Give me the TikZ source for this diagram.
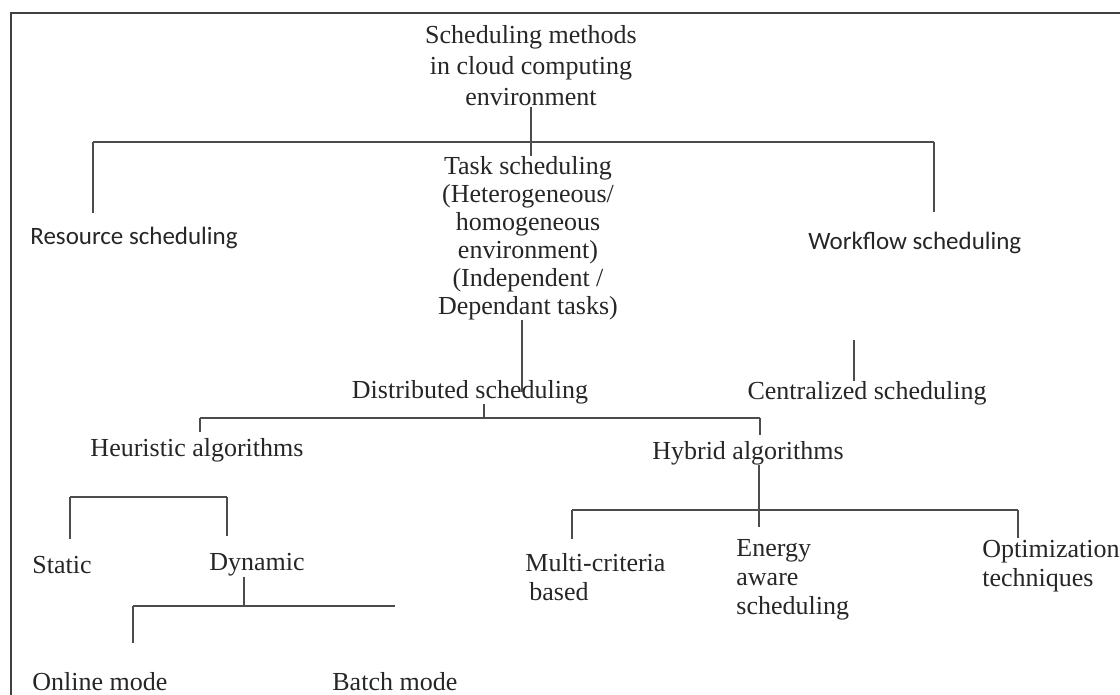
\documentclass[tikz,border=0pt]{standalone}
\usepackage{fontspec}
\setmainfont{Liberation Serif}
\newfontfamily\labelsans{Carlito}
\usetikzlibrary{positioning}

\begin{document}
\begin{tikzpicture}[x=0.5pt,y=-0.5pt,
      every node/.style={inner sep=0pt,text=black!85},
      method/.style={font=\fontsize{13}{14}\selectfont,align=center},
      leaf/.style={font=\fontsize{13}{14.5}\selectfont,align=left,anchor=west},
      sansleaf/.style={font=\labelsans\fontsize{12.5}{14}\selectfont,anchor=west},
      branch/.style={draw=black!70,line width=1pt}]

      \useasboundingbox (0,0) rectangle (1120,695);
      \draw[black!75,line width=1.4pt] (11,695) -- (11,13) -- (1120,13);

      % first level
      \node[method,font=\fontsize{13}{15.5}\selectfont] (title) at (531,66)
            {Scheduling methods\\in cloud computing\\environment};
      \node[method]   (task)     at (528,238) {Task scheduling\\(Heterogeneous/\\homogeneous\\environment)\\(Independent /\\Dependant tasks)};
      \node[sansleaf] (resource) at (30,238)  {Resource scheduling};
      \node[sansleaf] (workflow) at (808,243) {Workflow scheduling};

      % second level
      \node[method] (distributed) at (470,392) {Distributed scheduling};
      \node[method] (centralized) at (867,393) {Centralized scheduling};
      \node[method] (heuristic)   at (197,450) {Heuristic algorithms};
      \node[method] (hybrid)      at (748,453) {Hybrid algorithms};

      % leaves
      \node[leaf] (static)  at (32,565)  {Static};
      \node[leaf] (dynamic) at (209,565) {Dynamic};
      \node[leaf] (online)  at (32,682)  {Online mode};
      \node[leaf] (batch)   at (332,682) {Batch mode};
      \node[leaf] (multi)   at (525,577) {Multi-criteria\\\hspace{2pt}based};
      \node[leaf] (energy)  at (736,580) {Energy\\aware\\scheduling};
      \node[leaf] (optim)   at (982,566) {Optimization\\techniques};

      \coordinate (bar1-l) at (93,142);   \coordinate (bar1-r) at (934,142);
      \coordinate (bar2-l) at (200,418);  \coordinate (bar2-r) at (760,418);
      \coordinate (bar3-l) at (572,510);  \coordinate (bar3-r) at (1018,510);
      \coordinate (bar4-l) at (70,497);   \coordinate (bar4-r) at (227,497);
      \coordinate (bar5-l) at (133,606);  \coordinate (bar5-r) at (395,606);

      \draw[branch] (title.south) -- (title.south |- task.north);
      \draw[branch] (bar1-l) -- (bar1-r);
      \draw[branch,shorten >=7pt] (bar1-l) -- (bar1-l |- resource.north);
      \draw[branch,shorten >=10pt] (bar1-r) -- (bar1-r |- workflow.north);

      \draw[branch] ([xshift=-3pt]task.south) -- ([xshift=-3pt]task.south |- distributed.center);
      \draw[branch] ([xshift=-6.5pt]centralized.north) -- ++(0,-41);

      \draw[branch] ([xshift=7pt]distributed.south) -- ++(0,14);
      \draw[branch] (bar2-l) -- (bar2-r);
      \draw[branch,shorten >=3pt] (bar2-l) -- (bar2-l |- heuristic.north);
      \draw[branch,shorten >=3pt] (bar2-r) -- (bar2-r |- hybrid.north);

      \draw[branch] ([xshift=5.5pt]hybrid.south) -- ++(0,62);
      \draw[branch] (bar3-l) -- (bar3-r);
      \draw[branch,shorten >=7pt] (bar3-l) -- (bar3-l |- multi.north);
      \draw[branch,shorten >=1pt] (bar3-r) -- (bar3-r |- optim.north);

      \draw[branch] (bar4-l) -- (bar4-r);
      \draw[branch,shorten >=8.5pt] (bar4-l) -- (bar4-l |- static.north);
      \draw[branch,shorten >=8.5pt] (bar4-r) -- (bar4-r |- dynamic.north);

      \draw[branch] ([xshift=-6.5pt]dynamic.south) -- ++(0,29);
      \draw[branch] (bar5-l) -- (bar5-r);
      \draw[branch,shorten >=14.5pt] (bar5-l) -- (bar5-l |- online.north);
    \end{tikzpicture}
\end{document}
